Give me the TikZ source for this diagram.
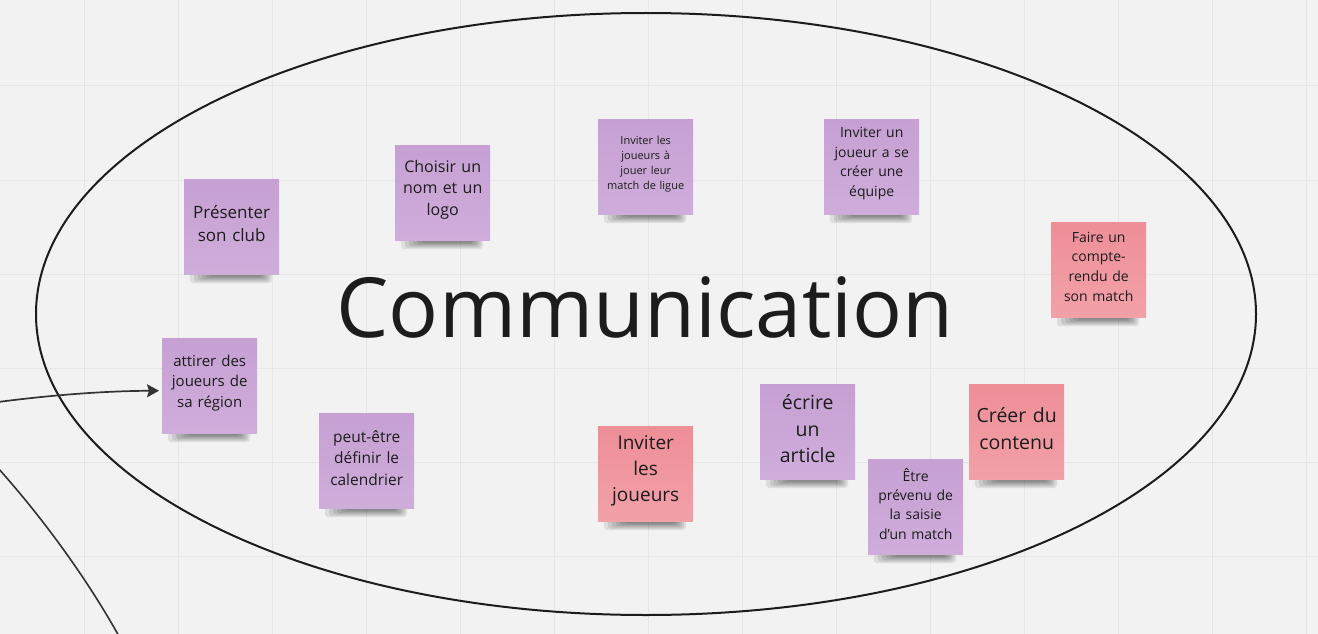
\documentclass[tikz,border=0pt]{standalone}
\usepackage{fontspec}
\setmainfont{Open Sans}
\usetikzlibrary{arrows.meta}
\definecolor{bgc}{HTML}{F2F2F2}
\definecolor{gridc}{HTML}{E6E6E6}
\definecolor{inkc}{HTML}{1C1C1C}
\definecolor{arrc}{HTML}{333333}
\definecolor{purA}{HTML}{C6A0D3}
\definecolor{purB}{HTML}{CFADDB}
\definecolor{pinA}{HTML}{EE8E97}
\definecolor{pinB}{HTML}{F2A1A9}
\tikzset{
  gridline/.style={gridc, line width=1pt},
  ell/.style={inkc, line width=2pt},
  conn/.style={arrc, line width=1.7pt},
  note/.style={minimum width=95pt, minimum height=95pt, inner sep=0pt,
    text width=92pt, align=center, anchor=north west, text=inkc,
    execute at end node={\par\vspace{6pt}}},
  purplenote/.style={note, top color=purA, bottom color=purB},
  pinknote/.style={note, top color=pinA, bottom color=pinB},
  shadowlayer/.style={black, opacity=0.085, rounded corners=3pt},
}
% #1 name, #2 left x, #3 top y, #4 style, #5 text
\newcommand{\stickynote}[5]{%
  \foreach \si in {0,...,5}{%
    \fill[shadowlayer] ({#2+6+4*\si},{#3+90}) rectangle ({#2+88-2*\si},{#3+104-1.3*\si});
  }
  \node[#4] (#1) at (#2,#3) {#5};
}
\begin{document}
\begin{tikzpicture}[x=1pt,y=-1pt]
\fill[bgc] (0,0) rectangle (1318,634);
\useasboundingbox (0,0) rectangle (1318,634);
\clip (0,0) rectangle (1318,634);
% grid
\foreach \gx in {84,178,...,1306} \draw[gridline] (\gx,0) -- (\gx,634);
\foreach \gy in {86,180,...,556} \draw[gridline] (0,\gy) -- (1318,\gy);
% ellipse
\draw[ell] (646,314) ellipse [x radius=610pt, y radius=301pt];
% title
\node[inkc, anchor=base, inner sep=0pt, font=\fontsize{83}{100}\selectfont] (title) at (645,337) {Communication};
% notes
\stickynote{present}{184}{179}{purplenote, font=\fontsize{17}{23.5}\selectfont}{Présenter\\son club}
\stickynote{choisir}{395}{145}{purplenote, font=\fontsize{16}{21.7}\selectfont}{Choisir un\\nom et un\\logo}
\stickynote{invligue}{598}{119}{purplenote, font=\fontsize{11}{15}\selectfont}{Inviter les\\joueurs à\\jouer leur\\match de ligue}
\stickynote{invequipe}{824}{119}{purplenote, font=\fontsize{14}{19.5}\selectfont}{Inviter un\\joueur a se\\créer une\\équipe}
\stickynote{compte}{1051}{222}{pinknote, font=\fontsize{14}{19.7}\selectfont}{Faire un\\compte-\\rendu de\\son match}
\stickynote{attirer}{162}{338}{purplenote, font=\fontsize{15}{20.5}\selectfont}{attirer des\\joueurs de\\sa région}
\stickynote{calendrier}{319}{413}{purplenote, font=\fontsize{15.5}{21.5}\selectfont}{peut-être\\définir le\\calendrier}
\stickynote{invjoueurs}{598}{426}{pinknote, font=\fontsize{19}{26}\selectfont}{Inviter\\les\\joueurs}
\stickynote{article}{760}{384}{purplenote, font=\fontsize{19.5}{26.5}\selectfont}{écrire\\un\\article}
\stickynote{prevenu}{868}{459}{purplenote, font=\fontsize{14}{19.3}\selectfont}{Être\\prévenu de\\la saisie\\d'un match}
\stickynote{contenu}{969}{384}{pinknote, font=\fontsize{19.5}{26.7}\selectfont}{Créer du\\contenu}
% connectors
\coordinate (arrstart) at (-2,402);
\draw[conn, -{Stealth[length=12pt, width=13pt, inset=2pt]}, shorten >=3pt]
  (arrstart) .. controls (60,394) and (110,391) .. ([yshift=-5pt]attirer.west);
\coordinate (lineA) at (-2,468);
\coordinate (lineB) at (120,638);
\draw[conn, line width=1.6pt] (lineA) .. controls (40,515) and (85,575) .. (lineB);
\end{tikzpicture}
\end{document}
